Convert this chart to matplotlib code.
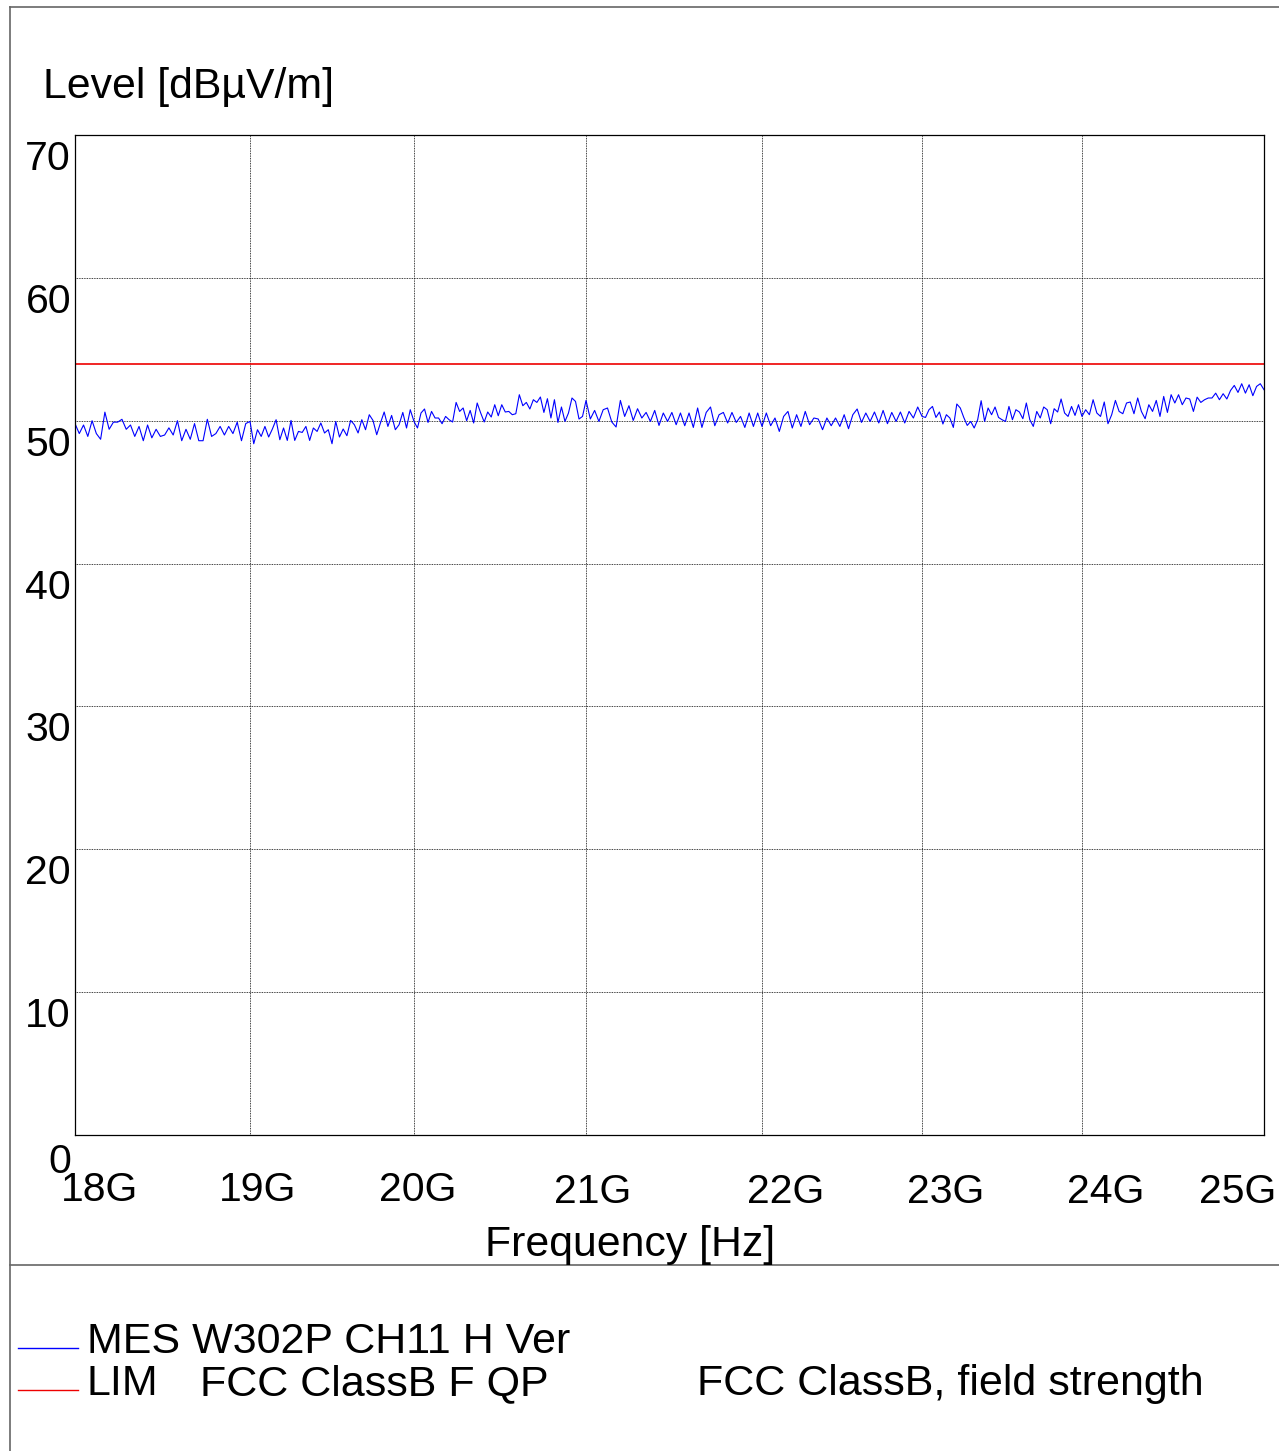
import numpy as np
import matplotlib
matplotlib.use("Agg")
import matplotlib.pyplot as plt
import matplotlib.transforms as mtransforms
from matplotlib.lines import Line2D

plt.rcParams['font.family'] = ['Liberation Sans', 'DejaVu Sans']

W, H = 1279, 1451

# measured level per 1 GHz span (dBuV/m), sweep 18..25 GHz
seg_18_19 = [49.8, 49.1, 49.7, 48.9, 50.0, 49.1, 48.7, 50.6, 49.4, 49.9, 49.9, 50.1, 49.4, 49.7,
             48.9, 49.6, 48.6, 49.7, 48.8, 49.4, 48.9, 49.0, 49.5, 49.0, 50.0, 48.6, 49.4, 48.7,
             49.8, 48.6, 48.6, 50.1, 48.9, 49.1, 49.6, 49.0, 49.6, 49.1, 49.9, 48.6, 49.8]
seg_19_20 = [49.95, 48.39, 49.37, 48.9, 49.6, 48.86, 49.42, 50.07, 48.67, 49.49, 48.62, 50.02,
             48.62, 49.25, 49.18, 49.6, 48.62, 49.49, 49.25, 49.84, 49.14, 49.37, 48.39, 49.95,
             48.86, 49.42, 48.95, 50.02, 49.72, 49.14, 50.07, 49.37, 50.42, 50.02, 49.02, 49.84,
             50.61, 49.6, 50.37, 49.37, 49.72, 50.58, 49.49, 50.77]
seg_20_21 = [49.95, 49.49, 50.54, 50.82, 49.88, 50.65, 50.19, 50.19, 49.79, 50.30, 50.07, 49.91,
             51.28, 50.65, 50.89, 50.0, 50.72, 49.84, 51.24, 50.54, 49.91, 50.61, 50.26, 51.12,
             50.35, 51.12, 50.61, 50.65, 50.42, 50.49, 51.82, 51.05, 51.28, 50.82, 51.47, 51.28,
             51.66, 50.58, 51.54, 50.19, 51.47, 49.88, 50.96, 49.95, 50.54, 51.59, 51.35, 50.12,
             50.30]
seg_21_22 = [51.42, 50.12, 50.72, 49.95, 50.77, 50.89, 49.91, 49.56, 51.42, 50.30, 51.05, 50.02,
             50.84, 50.19, 50.58, 49.95, 50.72, 49.67, 50.54, 49.95, 50.58, 49.72, 50.54, 49.65,
             50.54, 49.53, 50.89, 49.53, 50.58, 50.96, 49.65, 50.42, 50.58, 49.84, 50.58, 49.88,
             50.30, 49.53, 50.54, 49.6, 50.54]
seg_22_23 = [49.6, 50.54, 49.65, 50.19, 49.25, 50.30, 50.65, 49.49, 50.42, 49.6, 50.65, 49.72,
             50.19, 50.12, 49.37, 50.19, 49.65, 50.19, 49.6, 50.42, 49.44, 50.42, 50.82, 49.88,
             50.54, 49.95, 50.61, 49.84, 50.72, 49.79, 50.58, 49.95, 50.61, 49.84, 50.65, 50.19,
             50.96]
seg_23_24 = [50.30, 50.23, 50.77, 51.0, 50.23, 50.61, 49.77, 50.42, 50.19, 49.53, 51.17, 50.89,
             50.23, 49.67, 49.95, 49.49, 50.07, 51.40, 49.95, 50.89, 50.42, 50.96, 50.23, 50.07,
             49.95, 51.0, 50.07, 50.77, 50.61, 50.14, 51.24, 50.07, 49.60, 50.65, 50.19, 50.96,
             50.77, 49.79, 50.84, 50.61, 51.52, 50.54, 50.30, 51.0, 50.37, 51.12]
seg_24_25 = [50.30, 50.77, 50.42, 51.47, 50.54, 50.30, 51.31, 49.79, 50.42, 51.42, 50.65, 50.49,
             51.24, 51.31, 50.49, 51.59, 50.65, 50.14, 51.12, 50.65, 51.42, 50.30, 51.70, 50.58,
             51.82, 51.24, 51.82, 51.12, 51.59, 51.52, 50.65, 51.65, 51.28, 51.47, 51.59, 51.59,
             51.93, 51.47, 51.89, 51.52, 52.12, 52.47, 51.98, 52.59, 51.93, 52.52, 51.75, 52.40,
             52.59, 52.17]
segments = [seg_18_19, seg_19_20, seg_20_21, seg_21_22, seg_22_23, seg_23_24, seg_24_25]

limit_level = 54.0  # FCC ClassB field strength limit

tick_freqs = [18e9, 19e9, 20e9, 21e9, 22e9, 23e9, 24e9, 25e9]
tick_labels = ["18G", "19G", "20G", "21G", "22G", "23G", "24G", "25G"]
# where the report software put each GHz grid line (relative position along the axis)
tick_pos = [0.0, 0.1472, 0.2851, 0.4298, 0.5778, 0.7124, 0.8469, 1.0]
y_ticks = [0, 10, 20, 30, 40, 50, 60, 70]

freq, level = [], []
for i, seg in enumerate(segments):
    f = np.linspace(tick_freqs[i], tick_freqs[i + 1], len(seg), endpoint=(i == len(segments) - 1))
    freq.extend(f)
    level.extend(seg)
freq = np.array(freq)
level = np.array(level)


def fwd(f):
    return np.interp(f, tick_freqs, tick_pos)


def inv(p):
    return np.interp(p, tick_pos, tick_freqs)


fig = plt.figure(figsize=(W / 100, H / 100), dpi=100)
ax = fig.add_axes([75 / W, 1 - 1135 / H, (1264 - 75) / W, 1000 / H])
ax.set_xscale('function', functions=(fwd, inv))
ax.set_xlim(18e9, 25e9)
ax.set_ylim(0, 70)

ax.plot(freq, level, color='#0000ff', lw=0.8)
ax.plot([18e9, 25e9], [limit_level, limit_level], color='#ee0000', lw=1.2)

ax.set_xticks(tick_freqs)
ax.set_yticks(y_ticks)
ax.set_xticklabels([])
ax.set_yticklabels([])
ax.tick_params(length=0)
ax.grid(True, color='black', linestyle=(0, (1, 1)), lw=0.6)
for s in ax.spines.values():
    s.set_linewidth(0.9)

# tick labels drawn shifted as in the report
fs = 29.5
x_offs = [25, 8, 4, 7, 24, 24, 24, -26]
for f, lab, dx in zip(tick_freqs, tick_labels, x_offs):
    tr = mtransforms.offset_copy(ax.get_xaxis_transform(), fig=fig, x=dx, y=-55 if f < 21e9 else -57,
                                 units='dots')
    ax.text(f, 0, lab, transform=tr, ha='center', va='center', fontsize=fs)
for v in y_ticks:
    tr = mtransforms.offset_copy(ax.transData, fig=fig, x=-4, y=-24 if v > 0 else -27, units='dots')
    ax.text(18e9, v, str(v), transform=tr, ha='right', va='center', fontsize=fs)

fig.text(43 / W, 1 - 87 / H, "Level [dBµV/m]", ha='left', va='center', fontsize=30.8)
fig.text(630 / W, 1 - 1245 / H, "Frequency [Hz]", ha='center', va='center', fontsize=30.8)

# report frame
frame_c = '#666666'
fig.add_artist(Line2D([10 / W, 1], [1 - 7 / H, 1 - 7 / H], color=frame_c, lw=1.2))
fig.add_artist(Line2D([10 / W, 10 / W], [0, 1 - 7 / H], color=frame_c, lw=1.2))
fig.add_artist(Line2D([10 / W, 1], [1 - 1265 / H, 1 - 1265 / H], color=frame_c, lw=1.2))

# legend block
lfs = 31
fig.add_artist(Line2D([18 / W, 78 / W], [1 - 1348 / H, 1 - 1348 / H], color='#0000ff', lw=1))
fig.add_artist(Line2D([18 / W, 78 / W], [1 - 1390 / H, 1 - 1390 / H], color='#ee0000', lw=1))
fig.text(87 / W, 1 - 1342 / H, "MES W302P CH11 H Ver", ha='left', va='center', fontsize=lfs)
fig.text(87 / W, 1 - 1384 / H, "LIM", ha='left', va='center', fontsize=lfs)
fig.text(200 / W, 1 - 1384 / H, "FCC ClassB F QP", ha='left', va='center', fontsize=lfs)
fig.text(697 / W, 1 - 1384 / H, "FCC ClassB, field strength", ha='left', va='center', fontsize=lfs)

fig.savefig("out.png", dpi=100, facecolor='white')
